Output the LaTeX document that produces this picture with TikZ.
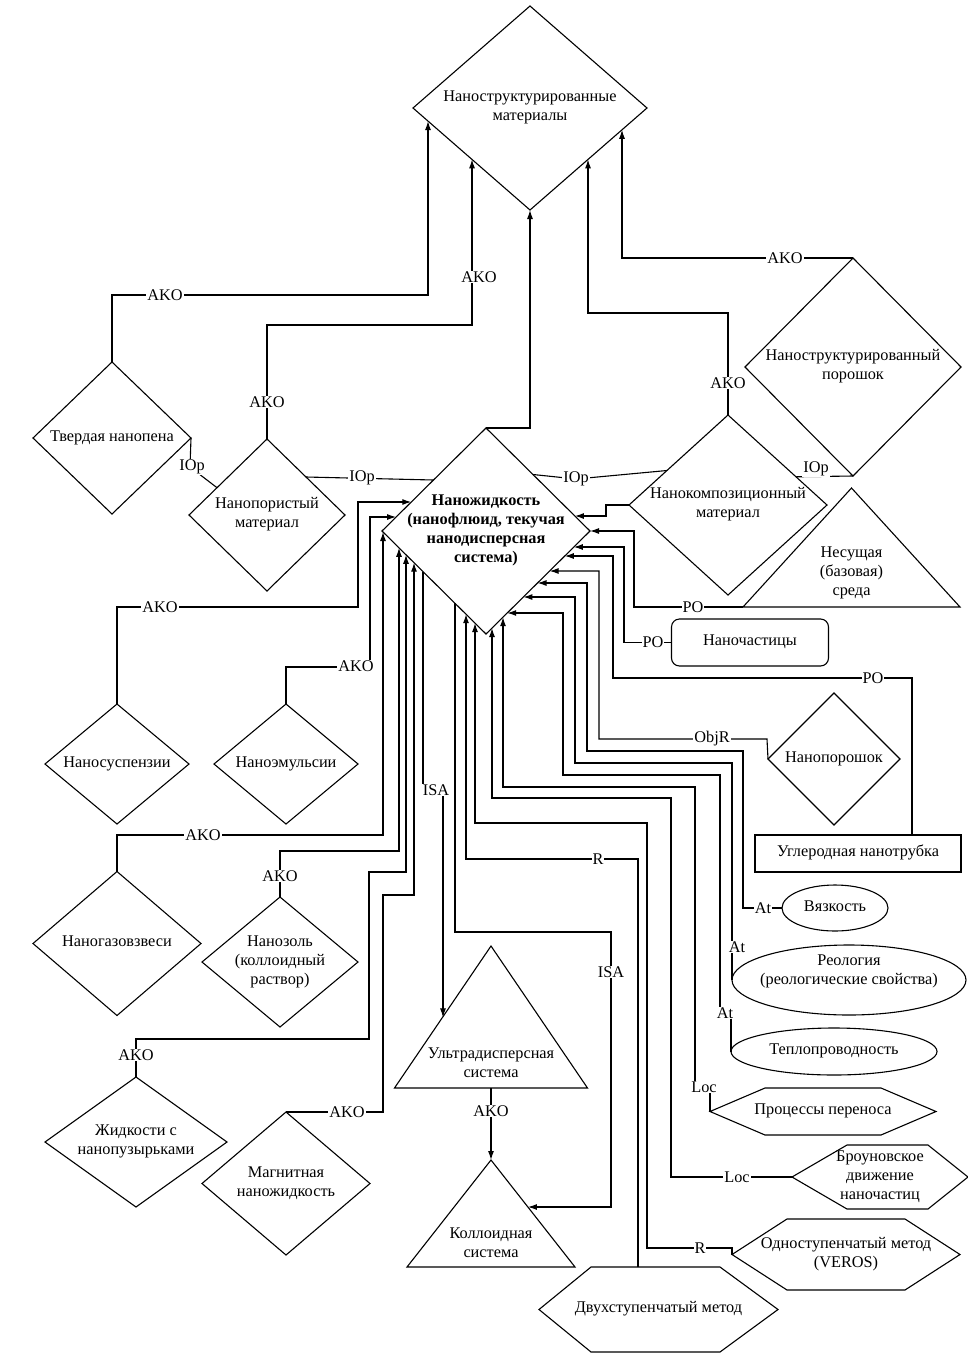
\documentclass[tikz,border=0pt]{standalone}
\usepackage{fontspec}
\setmainfont{Liberation Serif}
\usetikzlibrary{shapes.geometric,arrows.meta,calc}
\newcommand\zt[2][0pt]{\makebox[0pt]{\smash{\raisebox{\dimexpr#1-4pt\relax}{\begin{tabular}[c]{@{}c@{}}#2\end{tabular}}}}}
\newcommand\hexag[3]{\draw[shp] ([xshift=#2pt]#1.north west) -- ([xshift=-#3pt]#1.north east) -- (#1.east) -- ([xshift=-#3pt]#1.south east) -- ([xshift=#2pt]#1.south west) -- (#1.west) -- cycle;}
\begin{document}
\begin{tikzpicture}[x=1pt,y=-1pt,
  every node/.style={font=\fontsize{16.3}{19}\selectfont},
  dia/.style 2 args={draw, shape=diamond, minimum width=#1pt, minimum height=#2pt, inner sep=0pt, outer sep=0pt, line width=1.1pt},
  ell/.style={draw, ellipse, inner sep=0pt, outer sep=0pt, line width=1.1pt},
  boxn/.style={draw, rectangle, inner sep=0pt, outer sep=0pt, line width=1.1pt},
  frame/.style={rectangle, inner sep=0pt, outer sep=0pt},
  shp/.style={line width=1.1pt, line join=miter},
  con/.style={line width=1.1pt},
  arr/.style={con, -{Latex[length=9pt,width=6pt]}},
  lbl/.style={fill=white, inner sep=1pt}]
\fill[white] (0,0) rectangle (967,1363);
\useasboundingbox (0,0) rectangle (967,1363);

% ---------- nodes ----------
\node[dia={234}{204}] (top) at (530,108) {\zt{Наноструктурированные\\материалы}};
\node[dia={208}{206}, font=\fontsize{16.3}{19}\selectfont\bfseries] (cen) at (486,531) {\zt{Наножидкость\\(нанофлюид, текучая\\нанодисперсная\\система)}};
\node[dia={158}{152}] (tverd) at (112,438) {\zt{Твердая нанопена}};
\node[dia={156}{152}] (npor) at (267,515) {\zt{Нанопористый\\материал}};
\node[dia={198}{180}] (ncomp) at (728,505) {\zt{Нанокомпозиционный\\материал}};
\node[dia={216}{218}] (npow) at (853,367) {\zt{Наноструктурированный\\порошок}};
\node[frame, minimum width=217pt, minimum height=119pt] (nes) at (851.5,547.5) {\zt[-26pt]{Несущая\\(базовая)\\среда}};
\draw[shp] (nes.south west) -- (nes.north) -- (nes.south east) -- cycle;
\node[boxn, rounded corners=8pt, minimum width=157pt, minimum height=47pt] (nch) at (750,642.5) {\zt{Наночастицы}};
\node[dia={132}{132}] (npw2) at (834,759) {\zt{Нанопорошок}};
\node[boxn, minimum width=206pt, minimum height=37pt] (ugl) at (858,853.5) {\zt{Углеродная нанотрубка}};
\node[ell, minimum width=106pt, minimum height=46pt] (vyaz) at (835,908) {\zt{Вязкость}};
\node[ell, minimum width=234pt, minimum height=70pt] (reol) at (849,980) {\zt[8pt]{Реология\\(реологические свойства)}};
\node[ell, minimum width=206pt, minimum height=47pt] (tepl) at (834,1051.5) {\zt{Теплопроводность}};
\node[frame, minimum width=226pt, minimum height=47pt] (proc) at (823,1111.5) {\zt{Процессы переноса}};
\hexag{proc}{55}{55}
\node[frame, minimum width=176pt, minimum height=64pt] (brown) at (880,1177) {\zt{Броуновское\\движение\\наночастиц}};
\hexag{brown}{55}{40}
\node[frame, minimum width=228pt, minimum height=71pt] (odno) at (846,1254.5) {\zt{Одноступенчатый метод\\(VEROS)}};
\hexag{odno}{55}{55}
\node[frame, minimum width=239pt, minimum height=85pt] (dvuh) at (658.5,1309.5) {\zt{Двухступенчатый метод}};
\hexag{dvuh}{52}{58}
\node[frame, minimum width=193pt, minimum height=142pt] (ultra) at (491,1017) {\zt[-48pt]{Ультрадисперсная\\система}};
\draw[shp] (ultra.south west) -- (ultra.north) -- (ultra.south east) -- cycle;
\node[frame, minimum width=168pt, minimum height=107pt] (koll) at (491,1213.5) {\zt[-31pt]{Коллоидная\\система}};
\draw[shp] (koll.south west) -- (koll.north) -- (koll.south east) -- cycle;
\node[dia={144}{120}] (susp) at (117,764) {\zt{Наносуспензии}};
\node[dia={144}{120}] (emul) at (286,764) {\zt{Наноэмульсии}};
\node[dia={168}{144}] (gaz) at (117,943.5) {\zt{Наногазовзвеси}};
\node[dia={156}{130}] (zol) at (280,962) {\zt{Нанозоль\\(коллоидный\\раствор)}};
\node[dia={182}{130}] (zhid) at (136,1142) {\zt{Жидкости с\\нанопузырьками}};
\node[dia={168}{143}] (magn) at (286,1183.5) {\zt{Магнитная\\наножидкость}};

% ---------- connectors to the top diamond ----------
\draw[arr] (tverd.north) -- (112,295) -- (428,295) -- (428,121.1);
\node[lbl] at (165,295) {AKO};
\draw[arr] (npor.north) -- (267,325) -- (472,325) -- (472,159.4);
\node[lbl] at (267,402) {AKO};
\node[lbl] at (479,277) {AKO};
\draw[arr] (ncomp.north) -- (728,313) -- (588,313) -- (588,159.4);
\node[lbl] at (728,383) {AKO};
\draw[arr] (npow.north) -- (622,258) -- (622,129.8);
\node[lbl] at (785,258) {AKO};
\draw[arr] (cen.north) -- (530,428) -- (top.south);

% ---------- IOp links ----------
\draw[con] (tverd.east) -- (190,467) -- (217,487.7);
\node[lbl] at (192,467) {IOp};
\draw[con] (306,477) -- (433.5,480);
\node[lbl] at (362,478) {IOp};
\draw[con] (533,474.5) -- (576,479) -- (667,470.5);
\node[lbl] at (576,479) {IOp};
\draw[con] (796,476.8) -- (npow.south);
\node[lbl] at (816,469) {IOp};

% ---------- right side into the central diamond ----------
\draw[arr] (ncomp.west) -- (606,505) -- (606,516) -- (574.9,516);
\draw[arr] (nes.south west) -- (634,607) -- (634,531) -- (cen.east);
\node[lbl] at (693,607) {PO};
\draw[arr] (nch.west) -- (624,642.5) -- (624,547) -- (573.8,547);
\node[lbl] at (653,642.5) {PO};
\draw[arr] (912,835) -- (912,678) -- (613,678) -- (613,556) -- (564.8,556);
\node[lbl] at (873,678) {PO};
\draw[arr] (npw2.west) -- (767,739) -- (599,739) -- (599,571) -- (549.6,571);
\node[lbl] at (712,739) {ObjR};
\draw[arr] (vyaz.west) -- (743,908) -- (743,751) -- (587,751) -- (587,583) -- (537.5,583);
\node[lbl] at (763,908) {At};
\draw[arr] (reol.west) -- (732,763) -- (575,763) -- (575,597) -- (523.4,597);
\node[lbl] at (737,947) {At};
\draw[arr] (tepl.west) -- (731,1013) -- (720,1013) -- (720,775) -- (563,775) -- (563,613) -- (507.2,613);
\node[lbl] at (725,1013) {At};
\draw[arr] (proc.west) -- (710,1087) -- (695,1087) -- (695,787) -- (503,787) -- (503,617.2);
\node[lbl] at (704,1087) {Loc};
\draw[arr] (brown.west) -- (671,1177) -- (671,798) -- (492,798) -- (492,628.1);
\node[lbl] at (737,1177) {Loc};
\draw[arr] (odno.west) -- (732,1248) -- (647,1248) -- (647,823) -- (475,823) -- (475,623.1);
\node[lbl] at (700,1248) {R};
\draw[arr] (638,1267) -- (638,859) -- (466,859) -- (466,614.2);
\node[lbl] at (598,859) {R};

% ---------- ISA ----------
\draw[arr] (455,603.3) -- (455,932) -- (611,932) -- (611,1207) -- (527.9,1207);
\node[lbl] at (611,972) {ISA};
\draw[arr] (423,571.6) -- (423,790) -- (443,790) -- (443,1017.4);
\node[lbl] at (436,790) {ISA};
\draw[arr] (ultra.south) -- (koll.north);
\node[lbl] at (491,1111) {AKO};

% ---------- left side into the central diamond ----------
\draw[arr] (susp.north) -- (117,607) -- (358,607) -- (358,502) -- (411.3,502);
\node[lbl] at (160,607) {AKO};
\draw[arr] (emul.north) -- (286,667) -- (370,667) -- (370,517) -- (396.1,517);
\node[lbl] at (356,666) {AKO};
\draw[arr] (gaz.north) -- (117,835) -- (383,835) -- (383,532);
\node[lbl] at (203,835) {AKO};
\draw[arr] (zol.north) -- (280,851) -- (399,851) -- (399,547.8);
\node[lbl] at (280,876) {AKO};
\draw[arr] (zhid.north) -- (136,1039) -- (369,1039) -- (369,872) -- (406,872) -- (406,554.8);
\node[lbl] at (136,1055) {AKO};
\draw[arr] (magn.north) -- (383,1112) -- (383,895) -- (414,895) -- (414,562.7);
\node[lbl] at (347,1112) {AKO};
\end{tikzpicture}
\end{document}
